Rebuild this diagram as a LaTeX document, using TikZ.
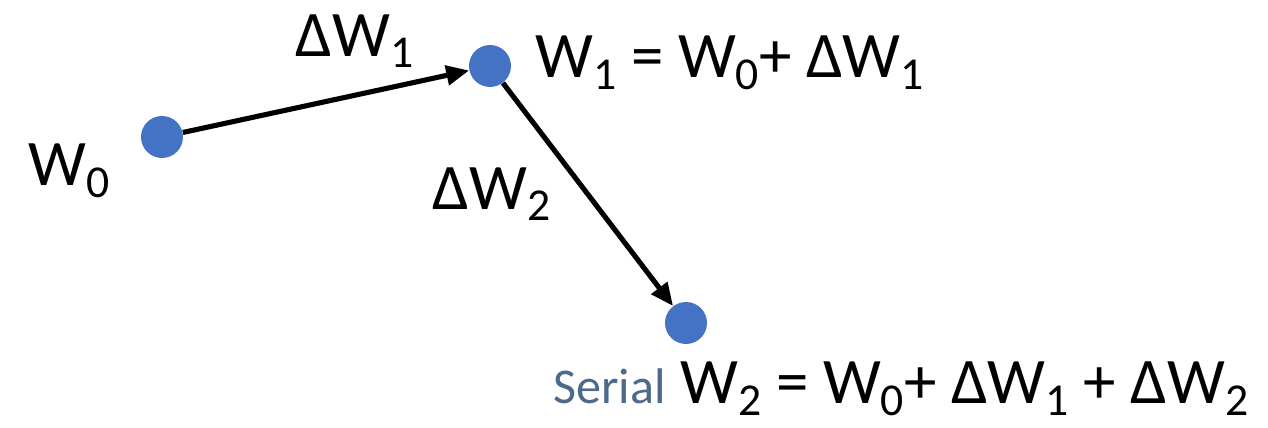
\documentclass[tikz,border=0pt]{standalone}
\usepackage{fontspec}
\setmainfont{Carlito}
\usetikzlibrary{arrows.meta,positioning}
\definecolor{dotblue}{HTML}{4472C4}
\definecolor{serialblue}{HTML}{4E6A8A}
\newcommand{\lowidx}[1]{\raisebox{-0.17em}{\fontsize{26}{26}\selectfont #1}}
\newcommand{\Wsub}[1]{W\lowidx{#1}}
\newcommand{\dWsub}[1]{ΔW\lowidx{#1}}

\begin{document}
\begin{tikzpicture}[x=0.02cm, y=-0.02cm, every node/.style={font=\fontsize{37}{44}\selectfont, inner sep=0pt}, dot/.style={circle, fill=dotblue, minimum size=0.84cm}, lbl/.style={anchor=base west}, step arrow/.style={line width=2.9pt, -{Triangle[length=13pt,width=11pt]}}]
\useasboundingbox (0,0) rectangle (1268,428);
\node[dot] (w0) at (162,137) {};
\node[dot] (w1) at (490,66) {};
\node[dot] (w2) at (686,323) {};
\node[lbl] (w0lbl) at (28,186) {\Wsub{0}};
\node[lbl] (w1lbl) at (535,78) {\Wsub{1} = \Wsub{0}+ \dWsub{1}};
\node[lbl] (serial) at (553,404) {\fontsize{28.5}{34}\selectfont\color{serialblue}Serial};
\node[lbl] (w2lbl) at (680,404) {\Wsub{2} = \Wsub{0}+ \dWsub{1} + \dWsub{2}};
\draw[step arrow] (w0) -- node[pos=0.6, above=5mm] (d1) {\dWsub{1}} (w1);
\draw[step arrow] (w1) -- node[pos=0.5, left=7mm] (d2) {\dWsub{2}} (w2);
\end{tikzpicture}
\end{document}
